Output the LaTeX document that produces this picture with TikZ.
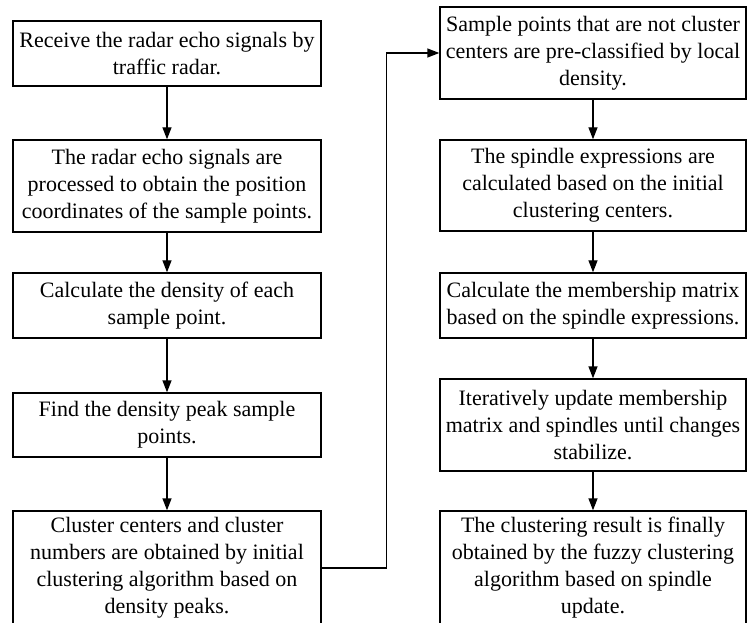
\documentclass[tikz,border=0pt]{standalone}
\usepackage{fontspec}
\setmainfont{Liberation Serif}
\usetikzlibrary{arrows.meta}
\begin{document}
\begin{tikzpicture}[x=1pt,y=-1pt,
  stepbox/.style={draw,line width=1.4pt,inner sep=0pt,align=center,
    font=\fontsize{22}{27}\selectfont},
  lbox/.style={stepbox,minimum width=308pt},
  rbox/.style={stepbox,minimum width=306pt},
  arr/.style={line width=1.4pt,-{Triangle[length=12pt,width=9pt]}}]
\useasboundingbox (0,0) rectangle (748,623);
\clip (0,0) rectangle (748,623);
\node[lbox,minimum height=65pt] (B1) at (167,53.5) {Receive the radar echo signals by\\traffic radar.};
\node[lbox,minimum height=92pt] (B2) at (167,186) {The radar echo signals are\\processed to obtain the position\\coordinates of the sample points.};
\node[lbox,minimum height=65pt] (B3) at (167,305.5) {Calculate the density of each\\sample point.};
\node[lbox,minimum height=64pt] (B4) at (167,425) {Find the density peak sample\\points.};
\node[lbox,minimum height=114pt] (B5) at (167,568) {Cluster centers and cluster\\numbers are obtained by initial\\clustering algorithm based on\\density peaks.};
\node[rbox,minimum height=92pt] (R1) at (593,53) {Sample points that are not cluster\\centers are pre-classified by local\\density.};
\node[rbox,minimum height=91pt] (R2) at (593,185.5) {The spindle expressions are\\calculated based on the initial\\clustering centers.};
\node[rbox,minimum height=65pt] (R3) at (593,305.5) {Calculate the membership matrix\\based on the spindle expressions.};
\node[rbox,minimum height=92pt] (R4) at (593,425) {Iteratively update membership\\matrix and spindles until changes\\stabilize.};
\node[rbox,minimum height=114pt] (R5) at (593,568) {The clustering result is finally\\obtained by the fuzzy clustering\\algorithm based on spindle\\update.};
\draw[arr] (B1) -- (B2);
\draw[arr] (B2) -- (B3);
\draw[arr] (B3) -- (B4);
\draw[arr] (B4) -- (B5);
\draw[arr] (R1) -- (R2);
\draw[arr] (R2) -- (R3);
\draw[arr] (R3) -- (R4);
\draw[arr] (R4) -- (R5);
\draw[arr] (B5.east) -- ++(65,0) |- (R1.west);
\end{tikzpicture}
\end{document}
